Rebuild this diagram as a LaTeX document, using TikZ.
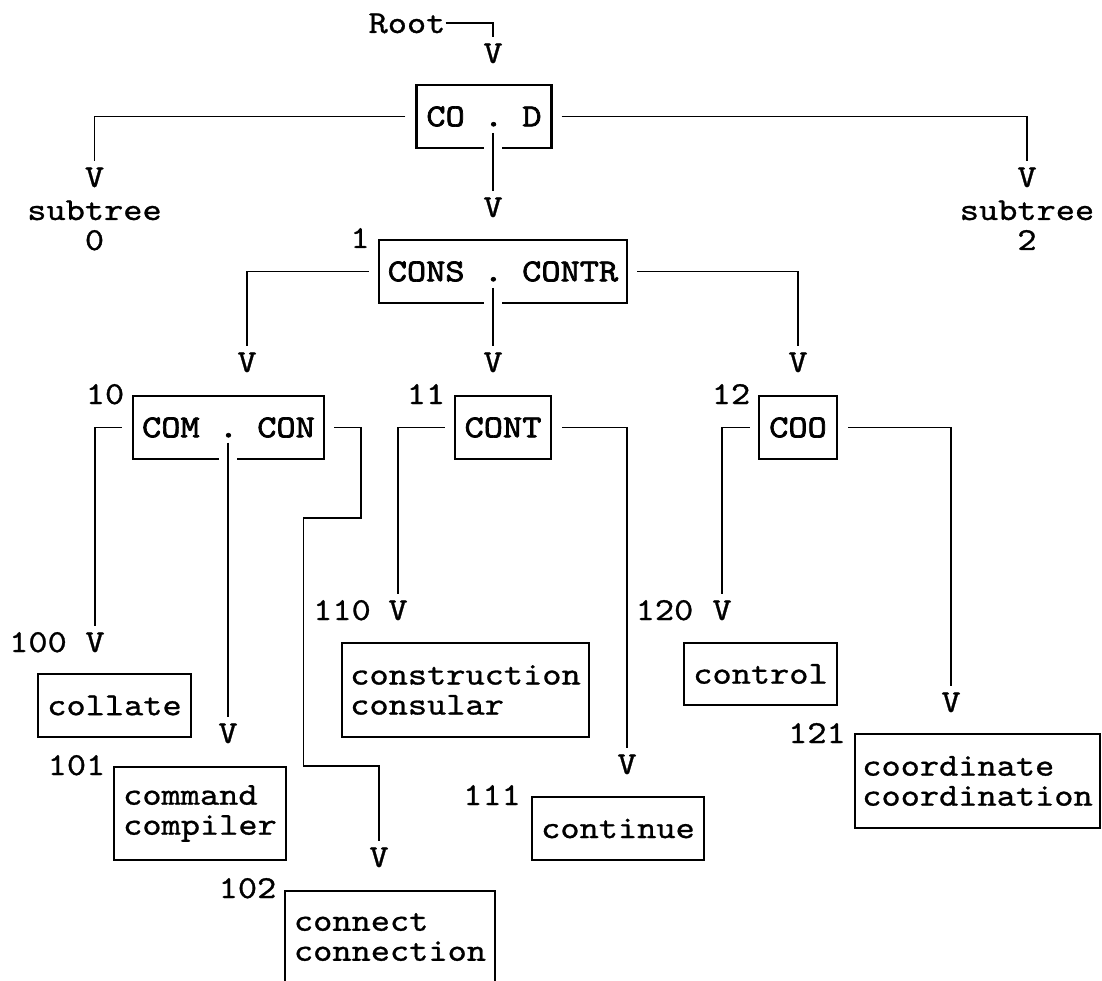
\documentclass[tikz,border=0pt]{standalone}
\usepackage{fontspec}
\usetikzlibrary{calc}
% typewriter faces, widened to a 19.2pt pitch at 32pt
\newfontfamily\tw{lmmono10-regular.otf}[FakeStretch=1.143, FakeBold=0.9]
\newfontfamily\twb{lmmono10-regular.otf}[FakeStretch=1.143, FakeBold=2.2]
\begin{document}
\begin{tikzpicture}[x=1pt,y=-1pt,
  typ/.style={font=\tw\fontsize{32}{30}\selectfont},
  box/.style={draw, line width=2.4pt, inner sep=0pt, align=left, typ},
  keybox/.style={box, font=\twb\fontsize{32}{30}\selectfont},
  lbl/.style={inner sep=0pt, anchor=base, typ},
  conn/.style={line width=1.8pt, shorten >=6pt},
  cut/.style={conn, draw=white, double=black, double distance=1.8pt, line width=8pt}]
\useasboundingbox (0,0) rectangle (1102,981);

% root and level 0
\node[lbl] (root) at (407,33) {Root};
\node[lbl] (vroot) at (493,63) {V};
\node[keybox, minimum width=135, minimum height=63] (cod) at (484,116.5) {CO . D};
\node[lbl] (v0) at (94.5,187) {V};
\node[lbl] (st0) at (94.5,220) {subtree};
\node[lbl] (n0) at (94.5,250) {0};
\node[lbl] (v2) at (1027,187) {V};
\node[lbl] (st2) at (1027,220) {subtree};
\node[lbl] (n2) at (1027,250) {2};
\node[lbl] (v1) at (493,217) {V};

% subtree 1
\node[lbl] (l1) at (360,248) {1};
\node[keybox, minimum width=248, minimum height=63] (cons) at (503,271.5) {CONS . CONTR};
\node[lbl] (v10) at (247,372) {V};
\node[lbl] (v11) at (493,372) {V};
\node[lbl] (v12) at (798,372) {V};

\node[lbl] (l10) at (105,404) {10};
\node[keybox, minimum width=191, minimum height=63] (com) at (228.5,427.5) {COM . CON};
\node[lbl] (l11) at (426,404) {11};
\node[keybox, minimum width=96, minimum height=63] (cont) at (503,427.5) {CONT};
\node[lbl] (l12) at (731,404) {12};
\node[keybox, minimum width=78, minimum height=63] (coo) at (798,427.5) {COO};

% leaves of 10
\node[lbl] (l100) at (38,652) {100};
\node[lbl] (v100) at (95,652) {V};
\node[box, minimum width=153, minimum height=63] (b100) at (114.5,705.5) {collate};
\node[lbl] (v101) at (228,743) {V};
\node[lbl] (l101) at (76.5,775) {101};
\node[box, minimum width=172, minimum height=93] (b101) at (200,813.5) {command\\compiler};
\node[lbl] (v102) at (379,867) {V};
\node[lbl] (l102) at (247.5,898) {102};
\node[box, minimum width=210, minimum height=92] (b102) at (390,937) {connect\\connection};

% leaves of 11
\node[lbl] (l110) at (342,620) {110};
\node[lbl] (v110) at (398,620) {V};
\node[box, minimum width=247, minimum height=94] (b110) at (465.5,690) {construction\\consular};
\node[lbl] (v111) at (627,774) {V};
\node[lbl] (l111) at (492,805) {111};
\node[box, minimum width=172, minimum height=63] (b111) at (618,828.5) {continue};

% leaves of 12
\node[lbl] (l120) at (664.5,620) {120};
\node[lbl] (v120) at (722,620) {V};
\node[box, minimum width=153, minimum height=62] (b120) at (760.5,674) {control};
\node[lbl] (v121) at (951,712) {V};
\node[lbl] (l121) at (817,743) {121};
\node[box, minimum width=245, minimum height=94] (b121) at (977.5,781) {coordinate\\coordination};

% bends of the long branch to 102
\coordinate (k1) at (361,518);
\coordinate (k2) at (303.5,766);

% connectors
\draw[conn] (root.east) -| (vroot.north);
\draw[conn] ([xshift=-10pt]cod.west) -| (v0.north);
\draw[conn] ([xshift=9pt]cod.east) -| (v2.north);
\draw[cut] ($(cod.center -| v1.north)+(0,16.5)$) -- (v1.north);

\draw[conn] ([xshift=-9pt]cons.west) -| (v10.north);
\draw[cut] ($(cons.center -| v11.north)+(0,16.5)$) -- (v11.north);
\draw[conn] ([xshift=9pt]cons.east) -| (v12.north);

\draw[conn] ([xshift=-10pt]com.west) -| (v100.north);
\draw[cut] ($(com.center -| v101.north)+(0,15)$) -- (v101.north);
\draw[conn] ([xshift=9pt]com.east) -| (k1) -| (k2) -| (v102.north);

\draw[conn] ([xshift=-9pt]cont.west) -| (v110.north);
\draw[conn] ([xshift=10pt]cont.east) -| (v111.north);

\draw[conn] ([xshift=-8pt]coo.west) -| (v120.north);
\draw[conn] ([xshift=10pt]coo.east) -| (v121.north);
\end{tikzpicture}
\end{document}
